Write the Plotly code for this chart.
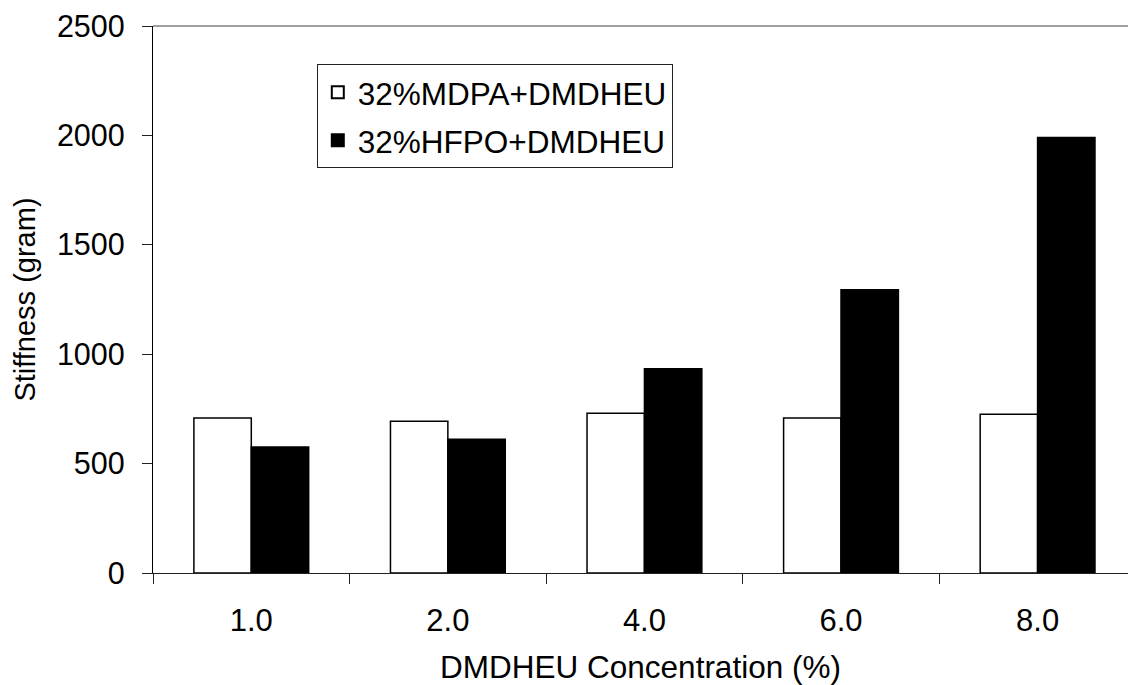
import plotly.graph_objects as go

categories = ["1.0", "2.0", "4.0", "6.0", "8.0"]
mdpa = [708, 693, 730, 708, 725]
hfpo = [576, 611, 934, 1295, 1990]
series_names = ["32%MDPA+DMDHEU", "32%HFPO+DMDHEU"]

FONT = "Liberation Sans, Arial, sans-serif"

fig = go.Figure()
fig.add_trace(go.Bar(x=categories, y=mdpa, name=series_names[0], legendgroup="a",
                     marker=dict(color="white", line=dict(color="black", width=1.5))))
fig.add_trace(go.Bar(x=categories, y=hfpo, name=series_names[1], legendgroup="b",
                     marker=dict(color="black", line=dict(color="black", width=1.5))))

fig.update_layout(
    width=1128, height=685,
    margin=dict(l=152.5, r=0, t=25.7, b=112.3),
    paper_bgcolor="white", plot_bgcolor="white",
    barmode="group", bargap=0.416, bargroupgap=0,
    font=dict(family=FONT, size=30, color="black"),
    showlegend=True,
    legend=dict(x=0.168, y=0.93, xanchor="left", yanchor="top",
                bordercolor="#222", borderwidth=1, bgcolor="white",
                font=dict(size=31.5, family=FONT), tracegroupgap=4,
                itemsizing="constant", itemwidth=30),
)

fig.update_xaxes(
    type="category", range=[-0.5, 4.46], tickson="boundaries",
    ticks="outside", ticklen=10, tickcolor="#222", tickwidth=1,
    showline=True, linecolor="#222", linewidth=1.3,
    showgrid=False, zeroline=False,
    ticklabelstandoff=20, tickfont=dict(size=31),
    title=dict(text="DMDHEU Concentration (%)", font=dict(size=31.5), standoff=18),
)
fig.update_yaxes(
    range=[0, 2500], tickvals=[0, 500, 1000, 1500, 2000, 2500],
    ticks="outside", ticklen=10, tickcolor="#222", tickwidth=1,
    showline=True, linecolor="black", linewidth=1.3,
    showgrid=False, zeroline=False,
    ticklabelstandoff=11, tickfont=dict(size=30.5),
    title=dict(text="Stiffness (gram)", font=dict(size=29), standoff=12),
)

# top border of plot area
fig.add_shape(type="line", xref="paper", yref="paper", x0=0, x1=1, y0=1, y1=1,
              line=dict(color="#808080", width=1.5))

fig.write_html("out.html")
